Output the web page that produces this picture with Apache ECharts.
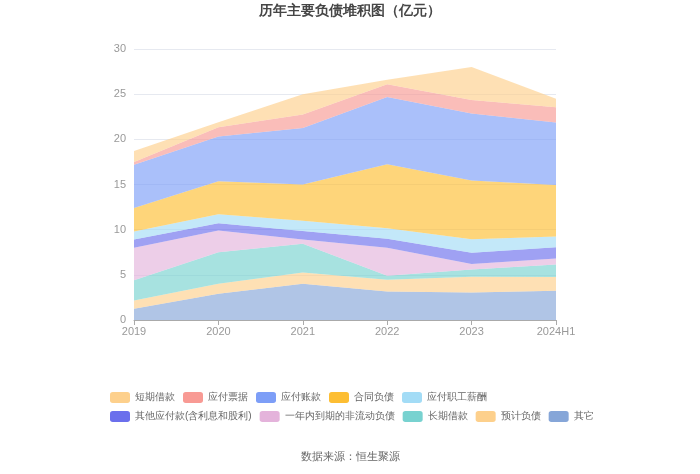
<!DOCTYPE html>
<html>
<head>
<meta charset="utf-8">
<script src="https://cdn.jsdelivr.net/npm/echarts@6/dist/echarts.min.js"></script>
<style>
html, body { margin: 0; padding: 0; background: #fff; }
#chart { width: 700px; height: 474px; }
</style>
</head>
<body>
<div id="chart"></div>
<script>
var years = ['2019', '2020', '2021', '2022', '2023', '2024H1'];
// 亿元, stacked from the bottom up
var qita        = [1.25, 2.9, 4.0, 3.15, 3.05, 3.25];   // 其它
var yujifuzhai  = [0.9, 1.1, 1.25, 1.3, 1.75, 1.5];     // 预计负债
var changqi     = [2.25, 3.5, 3.2, 0.45, 0.8, 1.4];     // 长期借款
var yinian      = [3.6, 2.4, 0.45, 3.1, 0.6, 0.65];     // 一年内到期的非流动负债
var qitayingfu  = [0.9, 0.8, 0.95, 1.0, 1.25, 1.25];    // 其他应付款(含利息和股利)
var zhigong     = [0.9, 1.0, 1.15, 1.15, 1.5, 1.2];     // 应付职工薪酬
var hetong      = [2.6, 3.65, 4.0, 7.1, 6.5, 5.7];      // 合同负债
var zhangkuan   = [4.8, 4.95, 6.25, 7.45, 7.4, 6.9];    // 应付账款
var piaoju      = [0.3, 1.05, 1.5, 1.4, 1.5, 1.7];      // 应付票据
var duanqi      = [1.2, 0.55, 2.25, 0.5, 3.65, 0.95];   // 短期借款

var legendNames = ['短期借款', '应付票据', '应付账款', '合同负债', '应付职工薪酬',
    '其他应付款(含利息和股利)', '一年内到期的非流动负债', '长期借款', '预计负债', '其它'];

var chart = echarts.init(document.getElementById('chart'));

function area(name, data, color) {
    return {
        name: name,
        type: 'line',
        stack: 'total',
        data: data,
        symbol: 'none',
        color: color,
        lineStyle: { width: 0 },
        areaStyle: { color: color, opacity: 0.65 }
    };
}

chart.setOption({
    title: [
        {
            text: '历年主要负债堆积图（亿元）',
            left: 'center',
            top: 4,
            padding: 0,
            textStyle: { fontSize: 14, fontWeight: 'bold', color: '#464646' }
        },
        {
            text: '数据来源：恒生聚源',
            left: 'center',
            top: 451,
            padding: 0,
            textStyle: { fontSize: 11, fontWeight: 'normal', color: '#666' }
        }
    ],
    legend: {
        data: legendNames,
        icon: 'roundRect',
        left: 110,
        top: 392,
        width: 490,
        padding: 0,
        itemWidth: 20,
        itemHeight: 11,
        itemGap: 8,
        textStyle: { fontSize: 10, color: '#666' }
    },
    grid: { left: 134, right: 144, top: 49, bottom: 154 },
    xAxis: {
        type: 'category',
        boundaryGap: false,
        data: years,
        axisLine: { lineStyle: { color: '#aaa' } },
        axisTick: { lineStyle: { color: '#aaa' } },
        axisLabel: { color: '#999', fontSize: 11, margin: 6 }
    },
    yAxis: {
        type: 'value',
        min: 0,
        max: 30,
        interval: 5,
        axisLabel: { color: '#999', fontSize: 11 },
        splitLine: { lineStyle: { color: '#e6e9f0' } }
    },
    series: [
        area('其它', qita, '#86a6d8'),
        area('预计负债', yujifuzhai, '#fdd08c'),
        area('长期借款', changqi, '#78d2d0'),
        area('一年内到期的非流动负债', yinian, '#e4b3db'),
        area('其他应付款(含利息和股利)', qitayingfu, '#6b6fec'),
        area('应付职工薪酬', zhigong, '#a3dcf6'),
        area('合同负债', hetong, '#fdbe33'),
        area('应付账款', zhangkuan, '#7d9ef7'),
        area('应付票据', piaoju, '#f89a94'),
        area('短期借款', duanqi, '#fdd08c')
    ]
});
</script>
</body>
</html>
